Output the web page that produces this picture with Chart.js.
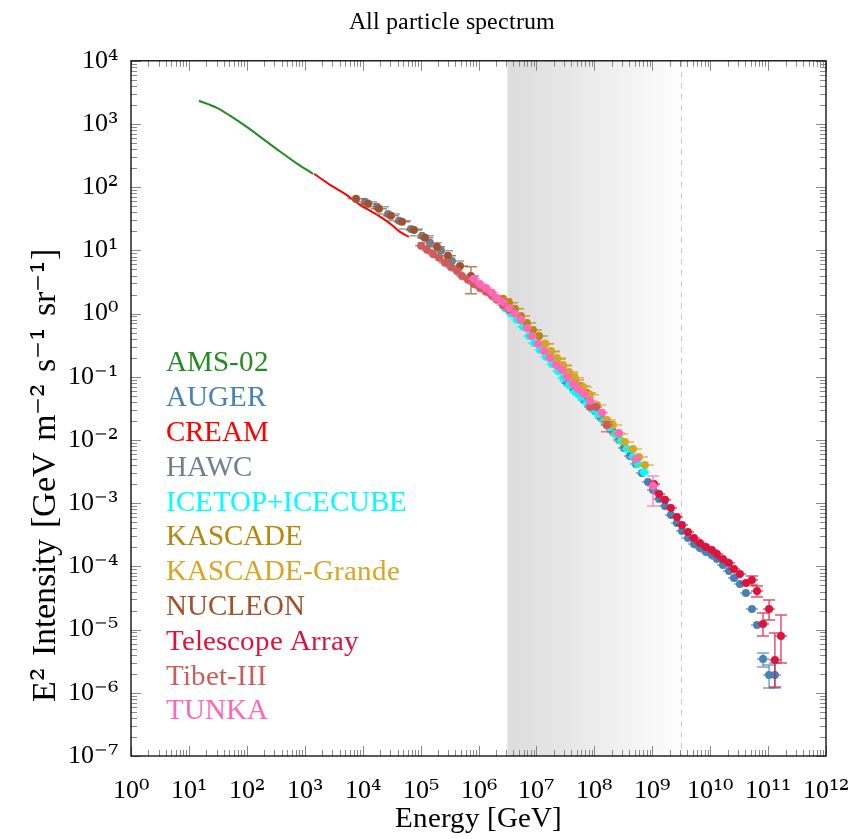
<!DOCTYPE html>
<html>
<head>
<meta charset="utf-8">
<script src="https://cdn.jsdelivr.net/npm/chart.js@4.4.1/dist/chart.umd.min.js"></script>
<style>
  @font-face { font-family: 'PlotSerif'; src: local('Liberation Serif'), local('LiberationSerif'); }
  @font-face { font-family: 'PlotSerif'; src: local('DejaVu Serif'), local('DejaVuSerif');
    unicode-range: U+00B2-00B3, U+00B9, U+2070-207F; }
  html, body { margin: 0; padding: 0; background: #ffffff; }
  #c { display: block; }
</style>
</head>
<body>
<canvas id="c" width="850" height="839"></canvas>
<script>
// ---------------- DATA ----------------
const TITLE = 'All particle spectrum         ';
const X_TITLE = 'Energy [GeV]';
const Y_TITLE = '      E\u00B2\u2004Intensity\u2004[GeV\u2004m\u207B\u00B2\u2004s\u207B\u00B9\u2004sr\u207B\u00B9]';

const SERIES_NAMES = ['AMS-02', 'AUGER', 'CREAM', 'HAWC', 'ICETOP+ICECUBE', 'KASCADE',
  'KASCADE-Grande', 'NUCLEON', 'Telescope Array', 'Tibet-III', 'TUNKA'];
const SERIES_COLORS = ['#228B22', '#4682B4', '#FF0000', '#708090', '#00FFFF', '#B8860B',
  '#DAA520', '#A0522D', '#DC143C', '#CD5C5C', '#FF69B4'];

// Energy [GeV] and E^2 intensity [GeV m^-2 s^-1 sr^-1]
const AMS_E = [14.9, 30.5, 51.2, 101, 190, 373, 735, 1390];
const AMS_I = [2330, 1800, 1355, 891, 582, 368, 236, 163];

const CREAM_E = [1450, 2730, 4950, 8990, 14500, 24300, 33400, 44100, 63100];
const CREAM_I = [163, 109, 78.5, 52.6, 40.7, 30.4, 24.4, 19.6, 16.4];

const AUGER_E = [3.37e7, 4.28e7, 5.22e7, 6.62e7, 8.41e7, 1.03e8, 1.30e8, 1.65e8, 2.10e8, 2.66e8,
  3.25e8, 4.12e8, 5.24e8, 6.64e8, 8.43e8, 1.03e9, 1.31e9, 1.66e9, 2.10e9, 2.67e9,
  3.26e9, 4.14e9, 5.25e9, 6.67e9, 8.47e9, 1.07e10, 1.31e10, 1.66e10, 2.11e10, 2.58e10,
  3.27e10, 4.15e10, 5.27e10, 6.43e10, 8.17e10, 1.04e11, 1.31e11];
const AUGER_I = [0.0800, 0.0667, 0.0556, 0.0431, 0.0359, 0.0288, 0.0223, 0.0173, 0.0134, 0.0100,
  0.00750, 0.00560, 0.00418, 0.00301, 0.00217, 0.00162, 0.00117, 9.06e-4, 6.52e-4, 4.88e-4,
  3.64e-4, 2.82e-4, 2.26e-4, 1.96e-4, 1.69e-4, 1.52e-4, 1.31e-4, 1.05e-4, 8.48e-5, 6.56e-5,
  5.27e-5, 3.80e-5, 2.12e-5, 1.18e-5, 3.43e-6, 1.91e-6, 1.91e-6];
// [point index, upper, lower]
const AUGER_ERR = [[34, 4.27e-6, 2.56e-6], [35, 2.75e-6, 1.19e-6], [36, 2.96e-6, 1.19e-6]];

const HAWC_E = [11000, 17700, 27400, 42400, 68200, 106000, 145000, 225000, 348000];
const HAWC_I = [58.6, 48.9, 37.8, 29.4, 21.9, 17.0, 13.2, 9.84, 6.82];

const ICETOP_E = [2.87e6, 3.64e6, 4.61e6, 5.86e6, 7.45e6, 9.08e6, 1.15e7, 1.46e7, 1.86e7, 2.36e7,
  2.88e7, 3.65e7, 4.63e7, 5.89e7, 7.46e7, 9.11e7, 1.16e8, 1.47e8, 1.86e8, 2.27e8,
  2.88e8, 3.66e8, 4.65e8, 5.67e8, 7.19e8];
const ICETOP_I = [1.23, 0.991, 0.796, 0.617, 0.444, 0.344, 0.267, 0.207, 0.160, 0.124,
  0.0959, 0.0744, 0.0577, 0.0481, 0.0386, 0.0310, 0.0259, 0.0200, 0.0161, 0.0125,
  0.00966, 0.00723, 0.00540, 0.00418, 0.00313];

const KASCADE_E = [2.65e6, 3.36e6, 4.27e6, 5.41e6, 6.87e6, 8.73e6, 1.11e7, 1.41e7, 1.78e7, 2.26e7,
  2.88e7, 3.65e7, 4.63e7, 5.89e7, 7.46e7];
const KASCADE_I = [1.71, 1.48, 1.19, 0.920, 0.713, 0.552, 0.444, 0.332, 0.248, 0.192,
  0.149, 0.115, 0.0893, 0.0718, 0.0556];

const KG_E = [1.41e7, 1.78e7, 2.26e7, 2.88e7, 3.65e7, 4.63e7, 6.37e7, 8.41e7, 1.11e8, 1.65e8,
  2.10e8, 2.66e8, 3.38e8, 4.65e8, 5.89e8, 7.48e8];
const KG_I = [0.332, 0.257, 0.199, 0.154, 0.119, 0.0962, 0.0692, 0.0518, 0.0359, 0.0208,
  0.0173, 0.0125, 0.00933, 0.00723, 0.00540, 0.00404];

const NUCLEON_E = [7670, 12400, 19100, 30800, 47800, 76900, 119000, 192000, 297000, 479000, 741000];
const NUCLEON_I = [65.5, 54.6, 45.5, 35.2, 28.3, 21.1, 15.8, 11.4, 8.20, 5.69, 3.95];
const NUCLEON_ERR = [[10, 5.50, 2.06]];

const TA_E = [1.07e9, 1.31e9, 1.66e9, 2.10e9, 2.67e9, 3.26e9, 4.14e9, 5.25e9, 6.67e9, 8.47e9,
  1.07e10, 1.31e10, 1.66e10, 2.11e10, 2.58e10, 3.27e10, 4.15e10, 5.27e10, 6.43e10, 8.17e10,
  1.04e11, 1.31e11, 1.67e11];
const TA_I = [0.00202, 0.00140, 0.00113, 8.41e-4, 6.05e-4, 4.53e-4, 3.51e-4, 2.82e-4, 2.35e-4, 2.03e-4,
  1.82e-4, 1.57e-4, 1.31e-4, 1.13e-4, 9.10e-5, 7.59e-5, 5.47e-5, 6.10e-5, 4.08e-5, 1.23e-5,
  2.12e-5, 3.30e-6, 7.93e-6];
const TA_ERR = [[17, 7.06e-5, 5.08e-5], [18, 4.90e-5, 3.28e-5], [19, 1.83e-5, 7.93e-6],
  [20, 2.94e-5, 1.42e-5], [21, 8.85e-6, 1.24e-6], [22, 1.70e-5, 2.96e-6]];

const TIBET_E = [102000, 129000, 164000, 208000, 264000, 335000, 425000, 519000, 658000, 836000,
  1.06e6, 1.35e6, 1.71e6, 2.08e6, 2.65e6, 3.36e6, 8.41e7, 1.07e8, 1.65e8];
const TIBET_I = [11.8, 10.2, 8.81, 7.62, 6.35, 5.48, 4.74, 3.95, 3.42, 2.95,
  2.55, 2.21, 1.91, 1.65, 1.37, 1.15, 0.0334, 0.0334, 0.0173];
const TIBET_ERR = [[18, 0.0195, 0.0135]];

const TUNKA_E = [836000, 1.06e6, 1.35e6, 1.71e6, 2.08e6, 2.65e6, 3.36e6, 4.27e6, 5.41e6, 6.87e6,
  8.38e6, 1.06e7, 1.35e7, 1.71e7, 2.18e7, 2.76e7, 3.37e7, 4.28e7, 5.22e7, 6.62e7,
  8.41e7, 1.36e8, 2.66e8, 5.24e8, 1.03e9];
const TUNKA_I = [3.55, 2.95, 2.55, 2.13, 1.77, 1.53, 1.23, 0.991, 0.796, 0.594,
  0.444, 0.332, 0.257, 0.199, 0.154, 0.129, 0.0995, 0.0773, 0.0643, 0.0536,
  0.0416, 0.0269, 0.0129, 0.00502, 0.00187];
const TUNKA_ERR = [[24, 0.0027, 0.000906]];

// knee region band and dashed line (energies)
const BAND_START = 3.16e6;
const BAND_END = 3.16e9;

const X_MIN = 1, X_MAX = 1e12;
const Y_MIN = 1e-7, Y_MAX = 1e4;

// ---------------- build datasets ----------------
const SERIES_E = [AMS_E, AUGER_E, CREAM_E, HAWC_E, ICETOP_E, KASCADE_E, KG_E, NUCLEON_E, TA_E, TIBET_E, TUNKA_E];
const SERIES_I = [AMS_I, AUGER_I, CREAM_I, HAWC_I, ICETOP_I, KASCADE_I, KG_I, NUCLEON_I, TA_I, TIBET_I, TUNKA_I];
const SERIES_ERR = [[], AUGER_ERR, [], [], [], [], [], NUCLEON_ERR, TA_ERR, TIBET_ERR, TUNKA_ERR];
const IS_LINE = [true, false, true, false, false, false, false, false, false, false, false];
// half length (px) of the horizontal bin bar drawn through each marker
const HBAR = [0, 6, 0, 12, 6, 9, 9, 8, 6, 6, 6];

const FONT = 'PlotSerif, "Liberation Serif", "DejaVu Serif", serif';

function withAlpha(hex, a) {
  const n = parseInt(hex.slice(1), 16);
  return `rgba(${(n >> 16) & 255},${(n >> 8) & 255},${n & 255},${a})`;
}

const datasets = SERIES_NAMES.map((name, i) => {
  const pts = SERIES_E[i].map((e, k) => ({ x: e, y: SERIES_I[i][k] }));
  const base = {
    label: name,
    data: pts,
    order: SERIES_NAMES.length - i,
    borderColor: SERIES_COLORS[i],
    backgroundColor: SERIES_COLORS[i],
  };
  if (IS_LINE[i]) {
    return Object.assign(base, { showLine: true, pointRadius: 0, borderWidth: 2,
      cubicInterpolationMode: 'monotone' });
  }
  return Object.assign(base, { showLine: false, pointRadius: 4, pointBorderWidth: 0, pointHoverRadius: 4 });
});

const SUP = { '0': '\u2070', '1': '\u00B9', '2': '\u00B2', '3': '\u00B3', '4': '\u2074', '5': '\u2075',
  '6': '\u2076', '7': '\u2077', '8': '\u2078', '9': '\u2079', '-': '\u207B' };
function powLabel(v) {
  const l = Math.log10(v);
  const r = Math.round(l);
  if (Math.abs(l - r) > 1e-6) return '';
  return '10' + String(r).split('').map(c => SUP[c]).join('');
}

// ---------------- plugin: band, error bars, legend, frame & ticks ----------------
const decor = {
  id: 'decor',
  beforeDatasetsDraw(chart) {
    const { ctx, chartArea: a, scales: { x } } = chart;
    const x0 = x.getPixelForValue(BAND_START), x1 = x.getPixelForValue(BAND_END);
    ctx.save();
    const g = ctx.createLinearGradient(x0, 0, x1, 0);
    g.addColorStop(0, '#dcdcdc');
    g.addColorStop(1, '#fdfdfd');
    ctx.fillStyle = g;
    ctx.fillRect(x0, a.top, x1 - x0, a.bottom - a.top);
    ctx.strokeStyle = '#c8c8c8';
    ctx.lineWidth = 1;
    ctx.setLineDash([6, 5]);
    ctx.beginPath();
    ctx.moveTo(Math.round(x1) + 0.5, a.top);
    ctx.lineTo(Math.round(x1) + 0.5, a.bottom);
    ctx.stroke();
    ctx.restore();
  },
  beforeDatasetDraw(chart, args) {
    const i = args.index;
    if (IS_LINE[i]) return;
    const { ctx, chartArea: a, scales: { x, y } } = chart;
    const col = withAlpha(SERIES_COLORS[i], 0.75);
    ctx.save();
    ctx.beginPath();
    ctx.rect(a.left, a.top, a.right - a.left, a.bottom - a.top);
    ctx.clip();
    ctx.strokeStyle = col;
    ctx.lineWidth = 1.5;
    const E = SERIES_E[i], I = SERIES_I[i];
    for (let k = 0; k < E.length; k++) {
      const px = x.getPixelForValue(E[k]), py = y.getPixelForValue(I[k]);
      ctx.beginPath();
      ctx.moveTo(px - HBAR[i], py);
      ctx.lineTo(px + HBAR[i], py);
      ctx.stroke();
    }
    for (const [k, hi, lo] of SERIES_ERR[i]) {
      const px = x.getPixelForValue(E[k]);
      const yh = y.getPixelForValue(hi), yl = y.getPixelForValue(lo);
      ctx.beginPath();
      ctx.moveTo(px, yh); ctx.lineTo(px, yl);
      ctx.moveTo(px - 6, yh); ctx.lineTo(px + 6, yh);
      ctx.moveTo(px - 6, yl); ctx.lineTo(px + 6, yl);
      ctx.stroke();
    }
    ctx.restore();
  },
  afterDatasetsDraw(chart) {
    const { ctx, chartArea: a } = chart;
    ctx.save();
    ctx.font = '29px ' + FONT;
    ctx.textAlign = 'left';
    ctx.textBaseline = 'alphabetic';
    SERIES_NAMES.forEach((n, i) => {
      ctx.fillStyle = SERIES_COLORS[i];
      ctx.fillText(n, a.left + 35, a.top + 310.5 + i * 34.8);
    });
    ctx.restore();
  },
  afterDraw(chart) {
    const { ctx, chartArea: a, scales: { x, y } } = chart;
    ctx.save();
    ctx.strokeStyle = '#8a8a8a';
    ctx.lineWidth = 1;
    ctx.beginPath();
    for (let e = 0; e <= 12; e++) {
      for (let m = 1; m <= 9; m++) {
        const v = m * Math.pow(10, e);
        if (v > X_MAX * 1.0001) break;
        const p = Math.round(x.getPixelForValue(v)) + 0.5;
        const len = m === 1 ? 10 : 6;
        ctx.moveTo(p, a.bottom); ctx.lineTo(p, a.bottom - len);
        ctx.moveTo(p, a.top); ctx.lineTo(p, a.top + len);
      }
    }
    for (let e = -7; e <= 4; e++) {
      for (let m = 1; m <= 9; m++) {
        const v = m * Math.pow(10, e);
        if (v > Y_MAX * 1.0001) break;
        const p = Math.round(y.getPixelForValue(v)) + 0.5;
        const len = m === 1 ? 10 : 6;
        ctx.moveTo(a.left, p); ctx.lineTo(a.left + len, p);
        ctx.moveTo(a.right, p); ctx.lineTo(a.right - len, p);
      }
    }
    ctx.stroke();
    ctx.strokeStyle = '#000';
    ctx.lineWidth = 1.3;
    ctx.strokeRect(a.left, a.top, a.right - a.left, a.bottom - a.top);
    ctx.restore();
  }
};

function draw() {
  new Chart(document.getElementById('c'), {
    type: 'scatter',
    data: { datasets },
    plugins: [decor],
    options: {
      responsive: false,
      animation: false,
      events: [],
      layout: { padding: { left: 0, right: 24, top: 0, bottom: 0 } },
      plugins: {
        legend: { display: false },
        tooltip: { enabled: false },
        title: {
          display: true, text: TITLE, color: '#000', fullSize: false,
          font: { family: FONT, size: 24, weight: 'normal' },
          padding: { top: 8, bottom: 24 }
        }
      },
      scales: {
        x: {
          type: 'logarithmic', position: 'bottom', min: X_MIN, max: X_MAX,
          grid: { display: false }, border: { display: false },
          ticks: { autoSkip: false, maxRotation: 0, minRotation: 0, padding: 12, color: '#000',
            font: { family: FONT, size: 26 }, callback: (v) => powLabel(v) },
          title: { display: true, text: X_TITLE, color: '#000', font: { family: FONT, size: 29 },
            padding: { top: 0, bottom: 2 } },
          afterFit(s) { s.height = 83; s.paddingLeft = 0; s.paddingRight = 0; }
        },
        y: {
          type: 'logarithmic', position: 'left', min: Y_MIN, max: Y_MAX,
          grid: { display: false }, border: { display: false },
          ticks: { autoSkip: false, padding: 5, color: '#000',
            font: { family: FONT, size: 26 }, callback: (v) => powLabel(v) },
          title: { display: true, text: Y_TITLE, align: 'start', color: '#000',
            font: { family: FONT, size: 34 }, padding: { top: 26, bottom: 0 } },
          afterFit(s) { s.width = 131; s.paddingTop = 0; s.paddingBottom = 0; }
        }
      }
    }
  });
}

let drawn = false;
function drawOnce() { if (!drawn) { drawn = true; draw(); } }
if (document.fonts && document.fonts.load) {
  Promise.all([
    document.fonts.load('26px PlotSerif', '10\u2070\u00B9\u207B'),
    document.fonts.load('26px PlotSerif', 'Energy')
  ]).then(drawOnce, drawOnce);
  setTimeout(drawOnce, 1500);
} else {
  drawOnce();
}
</script>
</body>
</html>
